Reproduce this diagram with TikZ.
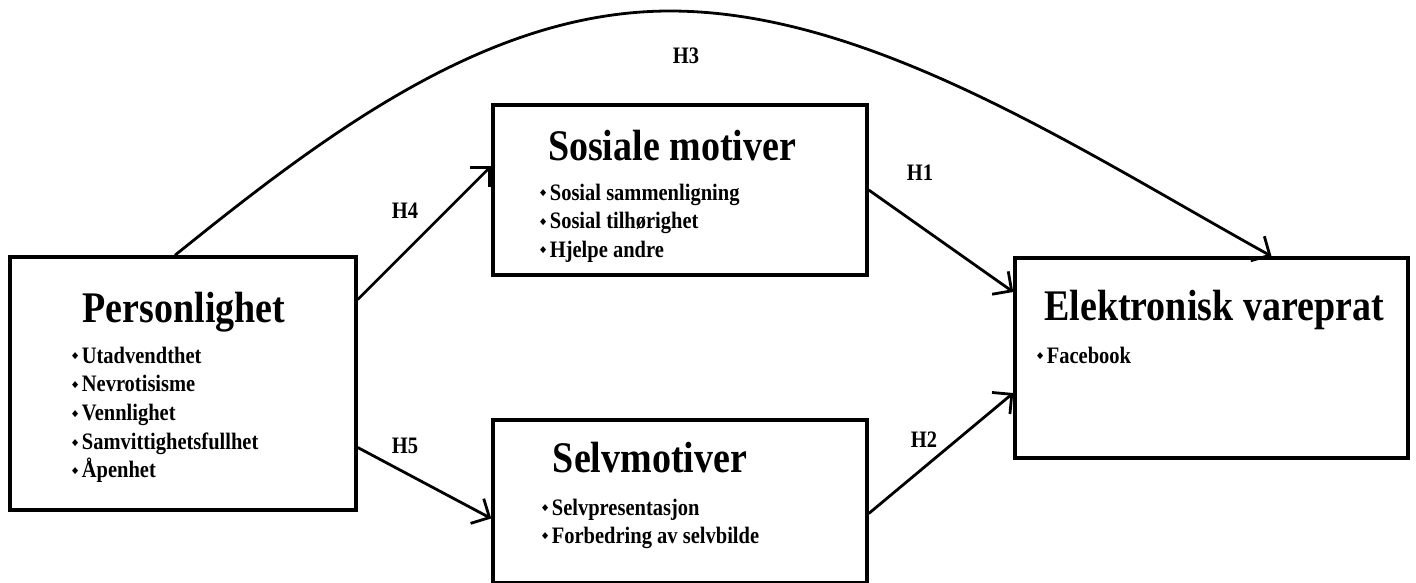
\documentclass[tikz,border=0pt]{standalone}
\usepackage{fontspec}
\setmainfont{Liberation Serif}
\newfontfamily\symfont{DejaVu Sans}
\usetikzlibrary{arrows.meta}

\newcommand{\bul}{\raisebox{3.5pt}{\symfont\fontsize{8}{8}\selectfont ◆}\hspace{3.5pt}}
\newcommand{\tall}[1]{\scalebox{1}[1.15]{#1}}

\tikzset{
  box/.style={draw, line width=3.5pt, inner sep=0pt},
  title/.style={font=\fontsize{38}{40}\selectfont\bfseries, anchor=base, inner sep=0pt},
  item/.style={font=\fontsize{20.5}{22}\selectfont\bfseries, anchor=base west, inner sep=0pt},
  hyp/.style={font=\fontsize{20.5}{22}\selectfont\bfseries, inner sep=0pt},
  link/.style={line width=2.8pt, -{Straight Barb[length=14pt,width=28pt,line width=2.8pt]}}
}

\begin{document}
\begin{tikzpicture}[x=1pt, y=-1pt]
    \useasboundingbox (0,0) rectangle (1416,582);

    % the four boxes
    \node[box, minimum width=346pt, minimum height=253pt] (pers) at (183,383.5) {};
    \node[box, minimum width=374pt, minimum height=170pt] (sos) at (680,190) {};
    \node[box, minimum width=374pt, minimum height=163pt] (selv) at (680,501.5) {};
    \node[box, minimum width=393pt, minimum height=200pt] (ele) at (1211.5,358) {};

    % titles
    \node[title] (persT) at (184,322) {\tall{Personlighet}};
    \node[title] (sosT) at (672,160) {\tall{Sosiale motiver}};
    \node[title] (selvT) at (650,472) {\tall{Selvmotiver}};
    \node[title] (eleT) at (1214,320) {\tall{Elektronisk vareprat}};

    % bullet lists
    \foreach \t [count=\i] in {Utadvendthet, Nevrotisisme, Vennlighet, Samvittighetsfullhet, Åpenhet} {
        \node[item] (pers-\i) at (72,{363+28.7*(\i-1)}) {\tall{\bul\t}};
    }
    \foreach \t [count=\i] in {Sosial sammenligning, Sosial tilhørighet, Hjelpe andre} {
        \node[item] (sos-\i) at (540,{200+28.5*(\i-1)}) {\tall{\bul\t}};
    }
    \foreach \t [count=\i] in {Selvpresentasjon, Forbedring av selvbilde} {
        \node[item] (selv-\i) at (542,{515+28*(\i-1)}) {\tall{\bul\t}};
    }
    \node[item] (ele-1) at (1037,363) {\tall{\bul Facebook}};

    % hypotheses
    \draw[link] ([yshift=84pt]pers.east) -- ([yshift=24pt]sos.west);
    \draw[link] ([yshift=-64pt]pers.east) -- ([yshift=-17pt]selv.west);
    \draw[link] (sos.east) -- ([yshift=66pt]ele.west);
    \draw[link] ([yshift=-12pt]selv.east) -- ([yshift=-35pt]ele.west);
    \coordinate (top) at (670,11);
    \draw[link] ([xshift=-8pt]pers.north) .. controls (330,130) and (490,11) .. (top)
        .. controls (870,11) and (1080,150) .. ([xshift=60pt]ele.north);

    \node[hyp] (h4) at (405,211) {\tall{H4}};
    \node[hyp] (h5) at (405,446) {\tall{H5}};
    \node[hyp] (h1) at (920,173) {\tall{H1}};
    \node[hyp] (h2) at (924,440) {\tall{H2}};
    \node[hyp] (h3) at (686,56) {\tall{H3}};
\end{tikzpicture}
\end{document}
